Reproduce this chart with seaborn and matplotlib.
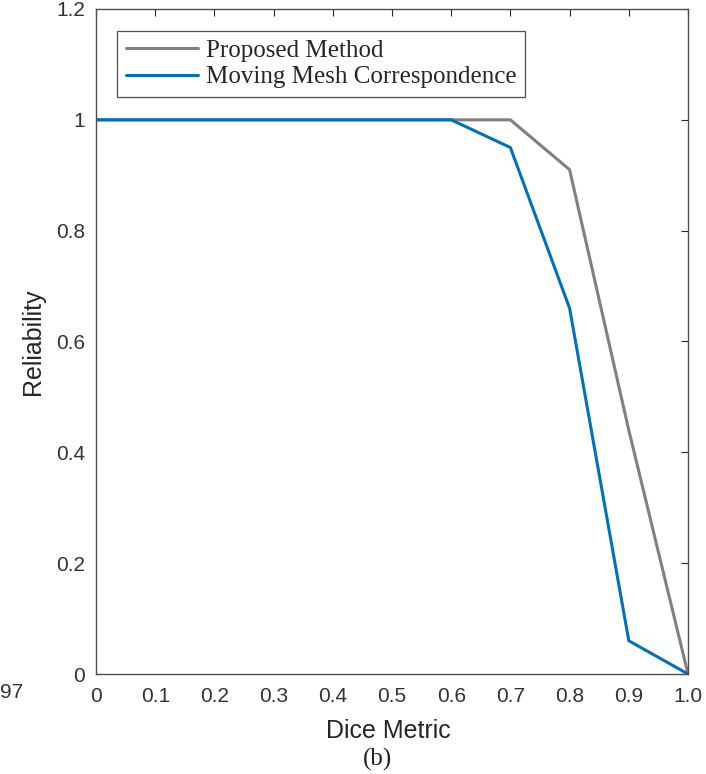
import numpy as np
import pandas as pd
import matplotlib
matplotlib.use("Agg")
import matplotlib.pyplot as plt
import seaborn as sns

dice = [0.0, 0.1, 0.2, 0.3, 0.4, 0.5, 0.6, 0.7, 0.8, 0.9, 1.0]
proposed = [1, 1, 1, 1, 1, 1, 1, 1, 0.91, 0.44, 0.0]
moving_mesh = [1, 1, 1, 1, 1, 1, 1, 0.95, 0.66, 0.06, 0.0]
series_names = ["Proposed Method", "Moving Mesh Correspondence"]
xtick_vals = [0, 0.1, 0.2, 0.3, 0.4, 0.5, 0.6, 0.7, 0.8, 0.9, 1.0]
xtick_labels = ["0", "0.1", "0.2", "0.3", "0.4", "0.5", "0.6", "0.7", "0.8", "0.9", "1.0"]
ytick_vals = [0, 0.2, 0.4, 0.6, 0.8, 1.0, 1.2]
ytick_labels = ["0", "0.2", "0.4", "0.6", "0.8", "1", "1.2"]

df = pd.DataFrame({
    "Dice": dice * 2,
    "Reliability": proposed + moving_mesh,
    "Method": [series_names[0]] * len(dice) + [series_names[1]] * len(dice),
})

sns.set_theme(style="white")
plt.rcParams["font.family"] = ["Liberation Sans", "DejaVu Sans"]

fig = plt.figure(figsize=(7.06, 7.74), dpi=100)
ax = fig.add_axes([96/706, 1 - 674/774, (688-96)/706, (674-9)/774])

palette = {series_names[0]: "#808080", series_names[1]: "#0072BD"}
sns.lineplot(data=df, x="Dice", y="Reliability", hue="Method", palette=palette,
             linewidth=2.2, ax=ax, legend=True, sort=False)

ax.set_xlim(0, 1.0)
ax.set_ylim(0, 1.2)
ax.set_xticks(xtick_vals)
ax.set_xticklabels(xtick_labels)
ax.set_yticks(ytick_vals)
ax.set_yticklabels(ytick_labels)
ax.tick_params(direction="in", length=5, width=0.8, colors="#262626",
               labelsize=15, top=True, right=True, labelcolor="#333333")
ax.tick_params(axis="x", pad=9)
ax.tick_params(axis="y", pad=8)
for s in ax.spines.values():
    s.set_color("#4d4d4d")
    s.set_linewidth(1.0)
ax.set_xlabel("Dice Metric", fontsize=18, color="#262626")
ax.set_ylabel("Reliability", fontsize=18, color="#262626")
ax.xaxis.set_label_coords((388 - 96) / 592, (674 - 719) / 665)
ax.yaxis.set_label_coords((45 - 96) / 592, 0.5)

leg = ax.legend(loc="upper left", bbox_to_anchor=((117 - 96) / 592, (674 - 31) / 665),
                frameon=True, fancybox=False, edgecolor="#262626", handlelength=2.9,
                handletextpad=0.3, borderpad=0.35, labelspacing=0.15,
                borderaxespad=0, prop={"family": "Liberation Serif", "size": 18})
leg.get_frame().set_linewidth(0.9)

fig.text(377 / 706, 1 - 759/774, "(b)", ha="center", va="center",
         family="Liberation Serif", fontsize=18, color="#222222")
fig.text(0.0, 1 - 693/774, "97", ha="left", va="center",
         fontsize=15, color="#333333")

fig.savefig("out.png", dpi=100)
